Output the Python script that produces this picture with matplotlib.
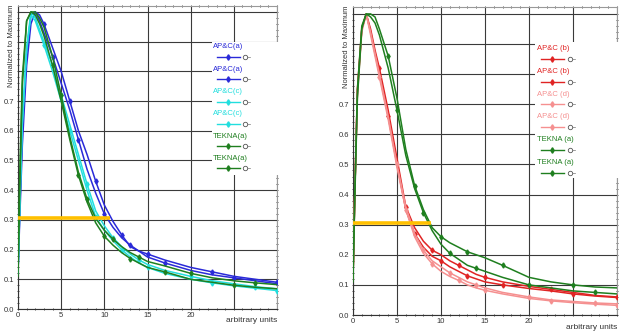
import numpy as np
import matplotlib.pyplot as plt
from matplotlib.patches import Rectangle

plt.rcParams['font.family'] = ['Liberation Sans', 'DejaVu Sans']

# common x positions (arbitrary units)
x = [0, 0.2, 0.5, 1, 1.5, 2, 2.5, 3, 4, 5, 6, 7, 8, 9, 10, 11, 12, 13, 14, 15, 17, 20, 22.5, 25, 27.5, 30]

# left panel
apc_a1 = [0.12, 0.30, 0.55, 0.82, 0.96, 1.00, 0.99, 0.96, 0.88, 0.80, 0.70, 0.60, 0.52, 0.43, 0.35, 0.295, 0.25, 0.21, 0.195, 0.185, 0.165, 0.14, 0.125, 0.11, 0.10, 0.09]
apc_a2 = [0.12, 0.33, 0.60, 0.86, 0.99, 1.00, 0.97, 0.93, 0.85, 0.76, 0.67, 0.57, 0.47, 0.39, 0.32, 0.275, 0.24, 0.215, 0.195, 0.175, 0.155, 0.13, 0.115, 0.105, 0.095, 0.085]
apc_c1 = [0.12, 0.34, 0.63, 0.88, 1.00, 0.98, 0.94, 0.90, 0.82, 0.72, 0.62, 0.52, 0.42, 0.33, 0.28, 0.24, 0.21, 0.185, 0.165, 0.15, 0.13, 0.11, 0.095, 0.085, 0.075, 0.068]
apc_c2 = [0.12, 0.33, 0.62, 0.87, 0.99, 0.97, 0.93, 0.89, 0.80, 0.70, 0.60, 0.50, 0.40, 0.31, 0.265, 0.23, 0.20, 0.175, 0.155, 0.14, 0.12, 0.10, 0.088, 0.078, 0.07, 0.062]
tek_l1 = [0.11, 0.40, 0.75, 0.97, 1.00, 0.99, 0.96, 0.92, 0.82, 0.70, 0.57, 0.45, 0.36, 0.29, 0.245, 0.215, 0.19, 0.17, 0.155, 0.14, 0.125, 0.10, 0.09, 0.08, 0.073, 0.068]
tek_l2 = [0.14, 0.45, 0.78, 0.97, 1.00, 1.00, 0.98, 0.95, 0.85, 0.72, 0.58, 0.46, 0.37, 0.305, 0.265, 0.235, 0.21, 0.19, 0.175, 0.16, 0.145, 0.12, 0.105, 0.095, 0.088, 0.082]

# right panel
apc_b1 = [0.12, 0.40, 0.75, 0.95, 1.00, 0.95, 0.88, 0.82, 0.68, 0.52, 0.36, 0.29, 0.245, 0.215, 0.20, 0.18, 0.165, 0.15, 0.135, 0.125, 0.11, 0.095, 0.085, 0.075, 0.065, 0.06]
apc_b2 = [0.12, 0.40, 0.74, 0.95, 1.00, 0.94, 0.87, 0.80, 0.66, 0.50, 0.35, 0.27, 0.225, 0.195, 0.18, 0.16, 0.145, 0.13, 0.12, 0.11, 0.10, 0.088, 0.08, 0.07, 0.063, 0.058]
apc_d1 = [0.12, 0.40, 0.74, 0.95, 1.00, 0.94, 0.87, 0.80, 0.66, 0.50, 0.36, 0.27, 0.215, 0.18, 0.16, 0.14, 0.125, 0.11, 0.10, 0.09, 0.075, 0.06, 0.05, 0.045, 0.04, 0.037]
apc_d2 = [0.12, 0.40, 0.73, 0.94, 1.00, 0.93, 0.86, 0.79, 0.65, 0.49, 0.35, 0.26, 0.205, 0.17, 0.145, 0.128, 0.115, 0.10, 0.09, 0.082, 0.07, 0.055, 0.047, 0.041, 0.036, 0.032]
tek_r1 = [0.12, 0.40, 0.75, 0.96, 1.00, 1.00, 0.99, 0.95, 0.86, 0.72, 0.55, 0.43, 0.35, 0.29, 0.26, 0.24, 0.225, 0.21, 0.20, 0.19, 0.165, 0.125, 0.11, 0.10, 0.093, 0.09]
tek_r2 = [0.11, 0.38, 0.72, 0.95, 1.00, 0.99, 0.97, 0.93, 0.82, 0.68, 0.53, 0.42, 0.34, 0.28, 0.235, 0.205, 0.185, 0.165, 0.155, 0.145, 0.125, 0.10, 0.09, 0.08, 0.075, 0.07]

left_labels = ['AP&C(a)', 'AP&C(a)', 'AP&C(c)', 'AP&C(c)', 'TEKNA(a)', 'TEKNA(a)']
right_labels = ['AP&C (b)', 'AP&C (b)', 'AP&C (d)', 'AP&C (d)', 'TEKNA (a)', 'TEKNA (a)']

blue = '#2a2ad8'
cyan = '#22dede'
green = '#1f7f1f'
red = '#e02424'
pink = '#f59090'
gold = '#ffc000'

left_series = [apc_a1, apc_a2, apc_c1, apc_c2, tek_l1, tek_l2]
left_colors = [blue, blue, cyan, cyan, green, green]
right_series = [apc_b1, apc_b2, apc_d1, apc_d2, tek_r1, tek_r2]
right_colors = [red, red, pink, pink, green, green]

fs = 5.5


def setup(ax, ytop):
    ax.set_xlim(0, 30)
    ax.set_ylim(0, ytop)
    ax.set_xticks([0, 5, 10, 15, 20, 25, 30])
    ax.set_xticklabels(['0', '5', '10', '15', '20', '', ''])
    ax.set_xticks(np.arange(0, 31, 1), minor=True)
    yt = np.arange(0, 1.01, 0.1)
    ax.set_yticks(yt)
    ax.set_yticklabels(['%.1f' % v if v < 0.75 else '' for v in yt])
    ax.set_yticks(np.arange(0, 1.02, 0.02), minor=True)
    ax.grid(True, which='major', color='#3a3a3a', linewidth=0.8)
    ax.tick_params(which='both', labelsize=fs, colors='#333333', length=2, width=0.6,
                   top=True, right=True, direction='inout', pad=1.5)
    ax.tick_params(which='minor', length=1.5)
    for s in ['left', 'bottom']:
        ax.spines[s].set_color('#333333')
        ax.spines[s].set_linewidth(0.8)
    for s in ['top', 'right']:
        ax.spines[s].set_color('#999999')
        ax.spines[s].set_linewidth(0.8)
    ax.text(1.0, -0.028, 'arbitrary units', transform=ax.transAxes, ha='right', va='top',
            fontsize=fs + 0.5, color='#333333')


def legend(ax, labels, colors, x0, y0, step, box):
    ax.add_patch(Rectangle((box[0], box[1]), box[2], box[3], transform=ax.transAxes,
                           facecolor='white', edgecolor='none', zorder=4, clip_on=False))
    for i, (lab, c) in enumerate(zip(labels, colors)):
        ty = y0 - i * step
        ly = ty - 0.033
        ax.text(x0, ty, lab, transform=ax.transAxes, fontsize=fs, color=c,
                ha='left', va='center', zorder=5)
        ax.plot([x0 + 0.015, x0 + 0.104], [ly, ly], transform=ax.transAxes, color=c,
                lw=1.0, zorder=5, clip_on=False)
        ax.plot([x0 + 0.058], [ly], transform=ax.transAxes, color=c, marker='d',
                ms=2.8, zorder=6, clip_on=False)
        ax.plot([x0 + 0.125], [ly], transform=ax.transAxes, marker='o', ms=3.2,
                mfc='white', mec='#555555', mew=0.6, zorder=6, clip_on=False)
        ax.plot([x0 + 0.133, x0 + 0.143], [ly, ly], transform=ax.transAxes,
                color='#777777', lw=0.5, zorder=6, clip_on=False)


fig = plt.figure(figsize=(6.23, 3.32), dpi=100)

ax1 = fig.add_axes([18 / 623, 23 / 332, 259 / 623, 303 / 332])
setup(ax1, 1.02)
for i, (ys, c) in enumerate(zip(left_series, left_colors)):
    ax1.plot(x, ys, color=c, lw=1.1, marker='d', ms=2.6, markevery=(7 + i % 3, 3), zorder=3)
ax1.plot([0, 10.7], [0.305, 0.305], color=gold, lw=2.6, zorder=3.5, solid_capstyle='butt')
legend(ax1, left_labels, left_colors, 0.753, 0.865, 0.0736, (0.749, 0.442, 0.27, 0.44))
fig.text(12 / 623, 1 - 46 / 332, 'Normalized to Maximum', rotation=90, ha='center',
         va='center', fontsize=fs, color='#333333')

ax2 = fig.add_axes([353 / 623, 17 / 332, 264 / 623, 308 / 332])
setup(ax2, 1.023)
for i, (ys, c) in enumerate(zip(right_series, right_colors)):
    ax2.plot(x, ys, color=c, lw=1.1, marker='d', ms=2.6, markevery=(7 + i % 3, 3), zorder=3)
ax2.plot([0, 8.9], [0.305, 0.305], color=gold, lw=2.6, zorder=3.5, solid_capstyle='butt')
legend(ax2, right_labels, right_colors, 0.697, 0.864, 0.0737, (0.689, 0.445, 0.33, 0.44))
fig.text(346 / 623, 1 - 47 / 332, 'Normalized to Maximum', rotation=90, ha='center',
         va='center', fontsize=fs, color='#333333')

fig.savefig('out.png', dpi=100)
